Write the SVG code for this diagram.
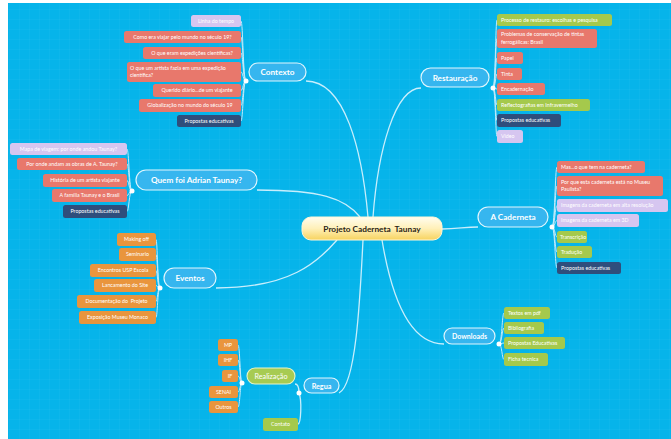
<svg xmlns="http://www.w3.org/2000/svg" width="671" height="439" viewBox="0 0 671 439">
<defs>
<style>
.t{font-family:Lato,"Open Sans","Liberation Sans",sans-serif;font-size:5.3px;fill:#ffffff}
.tm{text-anchor:middle}
.b{stroke:none}
.sal{fill:#e8786c}
.lav{fill:#d6c6f0}
.nav{fill:#2f4e7c}
.grn{fill:#a5c94c}
.org{fill:#e9953d}
.node{fill:#36b6ef;stroke:#dff5fd;stroke-width:1.2}
.nt{font-family:Lato,"Open Sans","Liberation Sans",sans-serif;font-weight:bold;font-size:8.2px;fill:#ffffff;text-anchor:middle}
.main{fill:none;stroke:#c8eefc;stroke-width:1.3}
.sub{fill:none;stroke:#bfeafb;stroke-width:1}
.dot{fill:#ffffff}
</style>
<linearGradient id="cg" x1="0" y1="0" x2="0" y2="1">
<stop offset="0" stop-color="#fffdf0"/>
<stop offset="0.5" stop-color="#fff0b8"/>
<stop offset="1" stop-color="#f7d35e"/>
</linearGradient>
<pattern id="grid" width="10" height="10" patternUnits="userSpaceOnUse">
<path d="M10 0V10M0 10H10" stroke="#ffffff" stroke-opacity="0.05" stroke-width="1" fill="none"/>
</pattern>
</defs>
<rect x="0" y="0" width="671" height="439" fill="#ffffff"/>
<rect x="8" y="3" width="663" height="436" fill="#06b4ea"/>
<rect x="8" y="3" width="663" height="436" fill="url(#grid)"/>

<g id="connectors">
<path class="main" d="M306 81 C345 81 362 150 368 217"/>
<path class="main" d="M421 88 C395 88 378 150 373 217"/>
<path class="main" d="M257 190 C320 190 345 198 360 217"/>
<path class="main" d="M216 288 C290 288 318 262 337 240"/>
<path class="main" d="M339 393 C356 385 360 300 363 240"/>
<path class="main" d="M442 229 C458 229 464 227 478 227"/>
<path class="main" d="M382 240 C392 300 410 344 444 344"/>
<path class="main" d="M295 384 C298 384 299 388 299 393"/>
<path class="main" d="M299 393 C302 400 301 424 298 424"/>
<path class="sub" d="M246 81 C243 81 243 21 241 21"/>
<path class="sub" d="M246 81 C243 81 243 37 241 37"/>
<path class="sub" d="M246 81 C243 81 243 53 241 53"/>
<path class="sub" d="M246 81 C243 81 243 72 241 72"/>
<path class="sub" d="M246 81 C243 81 243 90.5 241 90.5"/>
<path class="sub" d="M246 81 C243 81 243 105.5 241 105.5"/>
<path class="sub" d="M246 81 C243 81 243 121 241 121"/>
<path class="sub" d="M132 191 C129 191 129 149 127 149"/>
<path class="sub" d="M132 191 C129 191 129 164 127 164"/>
<path class="sub" d="M132 191 C129 191 129 180.5 127 180.5"/>
<path class="sub" d="M132 191 C129 191 129 195.5 127 195.5"/>
<path class="sub" d="M132 191 C129 191 129 211.5 127 211.5"/>
<path class="sub" d="M160 288 C157.5 288 157.5 239.5 156 239.5"/>
<path class="sub" d="M160 288 C157.5 288 157.5 254.5 156 254.5"/>
<path class="sub" d="M160 288 C157.5 288 157.5 270.5 156 270.5"/>
<path class="sub" d="M160 288 C157.5 288 157.5 285.5 156 285.5"/>
<path class="sub" d="M160 288 C157.5 288 157.5 301.5 156 301.5"/>
<path class="sub" d="M160 288 C157.5 288 157.5 317.5 156 317.5"/>
<path class="sub" d="M242 383 C240 383 240 345 238 345"/>
<path class="sub" d="M242 383 C240 383 240 360 238 360"/>
<path class="sub" d="M242 383 C240 383 240 376 238 376"/>
<path class="sub" d="M242 383 C240 383 240 392 238 392"/>
<path class="sub" d="M242 383 C240 383 240 407 238 407"/>
<path class="sub" d="M493 88 C495.5 88 495.5 20 497 20"/>
<path class="sub" d="M493 88 C495.5 88 495.5 38.5 497 38.5"/>
<path class="sub" d="M493 88 C495.5 88 495.5 58 497 58"/>
<path class="sub" d="M493 88 C495.5 88 495.5 74 497 74"/>
<path class="sub" d="M493 88 C495.5 88 495.5 89 497 89"/>
<path class="sub" d="M493 88 C495.5 88 495.5 105 497 105"/>
<path class="sub" d="M493 88 C495.5 88 495.5 120.5 497 120.5"/>
<path class="sub" d="M493 88 C495.5 88 495.5 136.5 497 136.5"/>
<path class="sub" d="M552 227 C555 227 555 167 557 167"/>
<path class="sub" d="M552 227 C555 227 555 186 557 186"/>
<path class="sub" d="M552 227 C555 227 555 205.5 557 205.5"/>
<path class="sub" d="M552 227 C555 227 555 220.5 557 220.5"/>
<path class="sub" d="M552 227 C555 227 555 237 557 237"/>
<path class="sub" d="M552 227 C555 227 555 252 557 252"/>
<path class="sub" d="M552 227 C555 227 555 268 557 268"/>
<path class="sub" d="M499 344 C502 344 502 313 504 313"/>
<path class="sub" d="M499 344 C502 344 502 328 504 328"/>
<path class="sub" d="M499 344 C502 344 502 343 504 343"/>
<path class="sub" d="M499 344 C502 344 502 359.5 504 359.5"/>
</g>

<g id="center">
<rect x="302" y="217" width="140" height="23" rx="9" fill="url(#cg)" stroke="#fff6d6" stroke-width="1"/>
<text x="372" y="231.8" text-anchor="middle" style="white-space:pre" font-family="Lato,'Open Sans','Liberation Sans',sans-serif" font-weight="bold" font-size="8.3" fill="#2b2416">Projeto Caderneta  Taunay</text>
</g>

<g id="contexto">
<rect class="node" x="249" y="63" width="57" height="18" rx="9"/>
<text class="nt" x="277.5" y="75">Contexto</text>
<circle class="dot" cx="246" cy="81" r="2.5"/>
</g>
<g id="contexto-children">
<g id="c1"><rect class="b lav" x="191" y="15" width="50" height="12" rx="2.5"/><text class="t tm" x="216" y="22.8">Linha do tempo</text></g>
<g id="c2"><rect class="b sal" x="124" y="31" width="117" height="12" rx="2.5"/><text class="t tm" x="182.5" y="38.8">Como era viajar pelo mundo no século 19?</text></g>
<g id="c3"><rect class="b sal" x="143" y="47" width="98" height="12" rx="2.5"/><text class="t tm" x="192" y="54.8">O que eram expedições científicas?</text></g>
<g id="c4"><rect class="b sal" x="127" y="62" width="114" height="20" rx="2.5"/><text class="t" x="130" y="69.5">O que um artista fazia em uma expedição</text><text class="t" x="130" y="77">científica?</text></g>
<g id="c5"><rect class="b sal" x="153" y="84" width="88" height="13" rx="2.5"/><text class="t tm" x="197" y="92.3">Querido diário...de um viajante</text></g>
<g id="c6"><rect class="b sal" x="139" y="99" width="102" height="13" rx="2.5"/><text class="t tm" x="190" y="107.3">Globalização no mundo do século 19</text></g>
<g id="c7"><rect class="b nav" x="177" y="115" width="64" height="12" rx="2.5"/><text class="t tm" x="209" y="122.8">Propostas educativas</text></g>
</g>

<g id="quem-foi">
<rect class="node" x="136" y="170" width="121" height="20" rx="10"/>
<text class="nt" x="196.5" y="183">Quem foi Adrian Taunay?</text>
<circle class="dot" cx="132" cy="191" r="2.5"/>
</g>
<g id="quem-children">
<g id="q1"><rect class="b lav" x="10" y="143" width="117" height="12" rx="2.5"/><text class="t tm" x="68.5" y="150.8">Mapa de viagem: por onde andou Taunay?</text></g>
<g id="q2"><rect class="b sal" x="17" y="158" width="110" height="12" rx="2.5"/><text class="t tm" x="72" y="165.8">Por onde andam as obras de A. Taunay?</text></g>
<g id="q3"><rect class="b sal" x="43" y="174" width="84" height="13" rx="2.5"/><text class="t tm" x="85" y="182.3">História de um artista viajante</text></g>
<g id="q4"><rect class="b sal" x="52" y="189" width="75" height="13" rx="2.5"/><text class="t tm" x="89.5" y="197.3">A família Taunay e o Brasil</text></g>
<g id="q5"><rect class="b nav" x="63" y="205" width="64" height="13" rx="2.5"/><text class="t tm" x="95" y="213.3">Propostas educativas</text></g>
</g>

<g id="eventos">
<rect class="node" x="164" y="268" width="52" height="20" rx="10"/>
<text class="nt" x="190" y="281">Eventos</text>
<circle class="dot" cx="160" cy="288" r="2.5"/>
</g>
<g id="eventos-children">
<g id="e1"><rect class="b org" x="117" y="233" width="39" height="13" rx="2.5"/><text class="t tm" x="136.5" y="241.3">Making off</text></g>
<g id="e2"><rect class="b org" x="119" y="248" width="37" height="13" rx="2.5"/><text class="t tm" x="137.5" y="256.3">Seminario</text></g>
<g id="e3"><rect class="b org" x="90" y="264" width="66" height="13" rx="2.5"/><text class="t tm" x="123" y="272.3">Encontros USP Escola</text></g>
<g id="e4"><rect class="b org" x="94" y="279" width="62" height="13" rx="2.5"/><text class="t tm" x="125" y="287.3">Lancamento do Site</text></g>
<g id="e5"><rect class="b org" x="77" y="295" width="79" height="13" rx="2.5"/><text class="t tm" x="116.5" y="303.3" style="white-space:pre">Documentação do  Projeto</text></g>
<g id="e6"><rect class="b org" x="79" y="311" width="77" height="13" rx="2.5"/><text class="t tm" x="117.5" y="319.3">Exposição Museu Monaco</text></g>
</g>

<g id="regua">
<rect class="node" x="304" y="378" width="35" height="15" rx="7.5"/>
<text class="nt" x="321.5" y="388.5" style="font-size:7.2px">Regua</text>
<circle class="dot" cx="299" cy="393" r="2.5"/>
</g>
<g id="realizacao">
<rect x="247" y="368" width="48" height="16" rx="8" fill="#a7cb52" stroke="#e7f5c9" stroke-width="1.1"/>
<text class="nt" x="271" y="378.8" style="font-size:7.2px;font-weight:normal">Realização</text>
<circle class="dot" cx="242" cy="383" r="2.5"/>
</g>
<g id="realizacao-children">
<g id="r1"><rect class="b org" x="218" y="339" width="20" height="12" rx="2.5"/><text class="t tm" x="228" y="346.8">MP</text></g>
<g id="r2"><rect class="b org" x="218" y="354" width="20" height="12" rx="2.5"/><text class="t tm" x="228" y="361.8">IHF</text></g>
<g id="r3"><rect class="b org" x="222" y="370" width="16" height="12" rx="2.5"/><text class="t tm" x="230" y="377.8">IF</text></g>
<g id="r4"><rect class="b org" x="209" y="386" width="29" height="12" rx="2.5"/><text class="t tm" x="223.5" y="393.8">SENAI</text></g>
<g id="r5"><rect class="b org" x="209" y="401" width="29" height="12" rx="2.5"/><text class="t tm" x="223.5" y="408.8">Outros</text></g>
</g>
<g id="contato"><rect class="b grn" x="263" y="418" width="35" height="13" rx="2.5"/><text class="t tm" x="280.5" y="426.3">Contato</text></g>

<g id="restauracao">
<rect class="node" x="421" y="68" width="68" height="19" rx="9.5"/>
<text class="nt" x="455" y="80.5">Restauração</text>
<circle class="dot" cx="493" cy="88" r="2.5"/>
</g>
<g id="restauracao-children">
<g id="s1"><rect class="b grn" x="497" y="14" width="115" height="12" rx="2.5"/><text class="t" x="501" y="21.8">Processo de restauro: escolhas e pesquisa</text></g>
<g id="s2"><rect class="b sal" x="497" y="29" width="100" height="19" rx="2.5"/><text class="t" x="501" y="36">Problemas de conservação de tintas</text><text class="t" x="501" y="43.5">ferrogálicas: Brasil</text></g>
<g id="s3"><rect class="b sal" x="497" y="52" width="26" height="12" rx="2.5"/><text class="t" x="501" y="59.8">Papel</text></g>
<g id="s4"><rect class="b sal" x="497" y="68" width="25" height="12" rx="2.5"/><text class="t" x="501" y="75.8">Tinta</text></g>
<g id="s5"><rect class="b sal" x="497" y="83" width="48" height="12" rx="2.5"/><text class="t" x="501" y="90.8">Encadernação</text></g>
<g id="s6"><rect class="b grn" x="497" y="99" width="93" height="12" rx="2.5"/><text class="t" x="501" y="106.8">Reflectografias em Infravermelho</text></g>
<g id="s7"><rect class="b nav" x="497" y="114" width="64" height="13" rx="2.5"/><text class="t" x="501" y="122.3">Propostas educativas</text></g>
<g id="s8"><rect class="b lav" x="497" y="130" width="26" height="13" rx="2.5"/><text class="t" x="501" y="138.3">Vídeo</text></g>
</g>

<g id="a-caderneta">
<rect class="node" x="478" y="207" width="70" height="20" rx="10"/>
<text class="nt" x="513" y="220">A Caderneta</text>
<circle class="dot" cx="552" cy="227" r="2.5"/>
</g>
<g id="caderneta-children">
<g id="a1"><rect class="b sal" x="557" y="161" width="88" height="12" rx="2.5"/><text class="t" x="561" y="168.8">Mas...o que tem na caderneta?</text></g>
<g id="a2"><rect class="b sal" x="557" y="176" width="106" height="20" rx="2.5"/><text class="t" x="561" y="183.5">Por que esta caderneta está no Museu</text><text class="t" x="561" y="191">Paulista?</text></g>
<g id="a3"><rect class="b lav" x="557" y="199" width="111" height="13" rx="2.5"/><text class="t" x="561" y="207.3">Imagens da caderneta em alta resolução</text></g>
<g id="a4"><rect class="b lav" x="557" y="214" width="82" height="13" rx="2.5"/><text class="t" x="561" y="222.3">Imagens da caderneta em 3D</text></g>
<g id="a5"><rect class="b grn" x="557" y="231" width="30" height="12" rx="2.5"/><text class="t" x="560" y="238.8">Transcrição</text></g>
<g id="a6"><rect class="b grn" x="557" y="246" width="35" height="12" rx="2.5"/><text class="t" x="561" y="253.8">Tradução</text></g>
<g id="a7"><rect class="b nav" x="557" y="262" width="64" height="12" rx="2.5"/><text class="t" x="561" y="269.8">Propostas educativas</text></g>
</g>

<g id="downloads">
<rect class="node" x="444" y="328" width="51" height="16" rx="8"/>
<text class="nt" x="469.5" y="338.6" style="font-size:7px">Downloads</text>
<circle class="dot" cx="499" cy="344" r="2.5"/>
</g>
<g id="downloads-children">
<g id="d1"><rect class="b grn" x="504" y="307" width="46" height="12" rx="2.5"/><text class="t" x="508" y="314.8">Textos em pdf</text></g>
<g id="d2"><rect class="b grn" x="504" y="322" width="40" height="12" rx="2.5"/><text class="t" x="508" y="329.8">Bibliografia</text></g>
<g id="d3"><rect class="b grn" x="504" y="337" width="61" height="12" rx="2.5"/><text class="t" x="508" y="344.8">Propostas Educativas</text></g>
<g id="d4"><rect class="b grn" x="504" y="353" width="44" height="13" rx="2.5"/><text class="t" x="508" y="361.3">Ficha tecnica</text></g>
</g>
</svg>
